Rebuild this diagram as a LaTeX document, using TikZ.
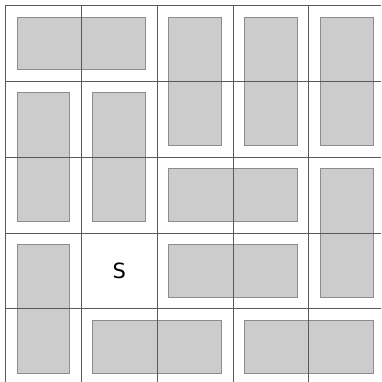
\documentclass[tikz,border=0pt]{standalone}
\usepackage{fontspec}
\setsansfont{DejaVu Sans}
\begin{document}
\begin{tikzpicture}[x=1pt,y=-1pt,
  blk/.style={draw=black!45,fill=black!20,line width=0.9pt},
  gridln/.style={draw=black!65,line width=0.8pt},
  lbl/.style={font=\sffamily\fontsize{21}{21}\selectfont,text=black}]
\useasboundingbox (0,0) rectangle (381,382);
\fill[white] (0,0) rectangle (381,382);
% cell (c,r) corners: x=5.5+75.8c, y=5.5+75.8r ; inset 11.5
\newcommand{\blkrect}[5]{\path[blk] ({5.5+75.8*#1+11.5},{5.5+75.8*#2+11.5}) rectangle ({5.5+75.8*#3-11.5},{5.5+75.8*#4-11.5}) node[coordinate] (#5) {};}
\blkrect{0}{0}{2}{1}{b1}
\blkrect{2}{0}{3}{2}{b2}
\blkrect{3}{0}{4}{2}{b3}
\blkrect{4}{0}{5}{2}{b4}
\blkrect{0}{1}{1}{3}{b5}
\blkrect{1}{1}{2}{3}{b6}
\blkrect{2}{2}{4}{3}{b7}
\blkrect{4}{2}{5}{4}{b8}
\blkrect{0}{3}{1}{5}{b9}
\blkrect{2}{3}{4}{4}{b10}
\blkrect{1}{4}{3}{5}{b11}
\blkrect{3}{4}{5}{5}{b12}
\foreach \i in {0,...,4} {
  \draw[gridln] ({5.5+75.8*\i},5.5) -- ({5.5+75.8*\i},382);
  \draw[gridln] (5.5,{5.5+75.8*\i}) -- (381,{5.5+75.8*\i});
}
\node[lbl] (s) at (119.2,270.5) {S};
\end{tikzpicture}
\end{document}
